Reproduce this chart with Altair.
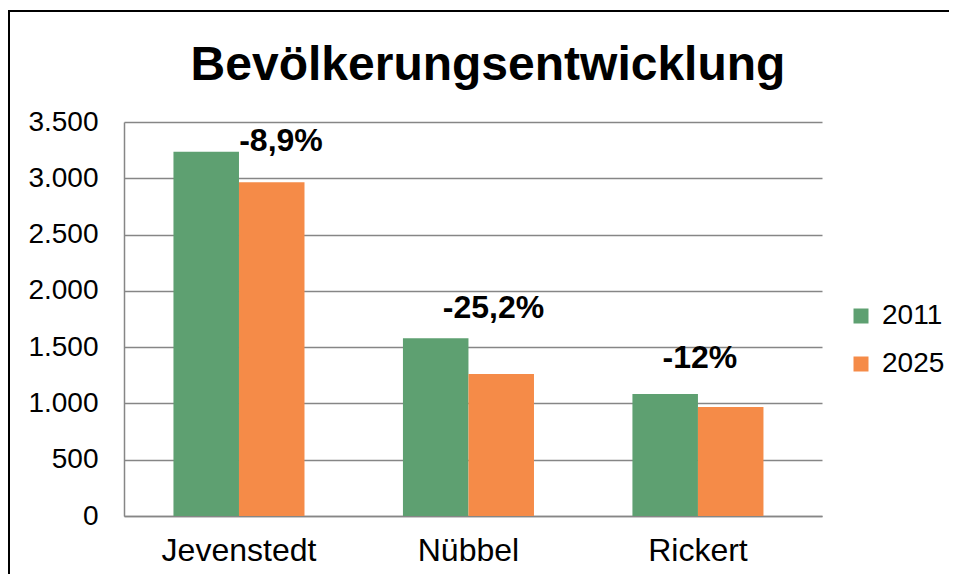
import altair as alt
import pandas as pd

categories = ["Jevenstedt", "Nübbel", "Rickert"]
years = ["2011", "2025"]
values_2011 = [3235, 1580, 1083]
values_2025 = [2965, 1262, 968]
change_labels = ["-8,9%", "-25,2%", "-12%"]
y_ticks = [0, 500, 1000, 1500, 2000, 2500, 3000, 3500]
colors = ["#5EA071", "#F58B48"]

rows = []
for c, a, b in zip(categories, values_2011, values_2025):
    rows.append({"Ort": c, "Jahr": years[0], "Einwohner": a})
    rows.append({"Ort": c, "Jahr": years[1], "Einwohner": b})
df = pd.DataFrame(rows)

lab_df = pd.DataFrame({
    "Ort": categories,
    "label": change_labels,
    "top": [max(a, b) for a, b in zip(values_2011, values_2025)],
})

FONT = "Liberation Sans"
W, H = 698, 394

x_scale = alt.Scale(paddingInner=0.429, paddingOuter=0.2353, align=0.458)
x_enc = alt.X(
    "Ort:N", sort=categories, scale=x_scale,
    axis=alt.Axis(title=None, labelAngle=0, labelFontSize=32, labelColor="#000000",
                  labelFont=FONT, labelPadding=19, ticks=False,
                  domainColor="#868686", domainWidth=1.5),
)
y_enc = alt.Y(
    "Einwohner:Q",
    scale=alt.Scale(domain=[0, 3500], nice=False),
    axis=alt.Axis(values=y_ticks, title=None,
                  labelExpr="replace(format(datum.value, ','), ',', '.')",
                  labelFontSize=28, labelFont=FONT, labelColor="#000000",
                  labelPadding=26, ticks=False,
                  gridColor="#868686", gridWidth=1.5,
                  domainColor="#868686", domainWidth=1.5),
)

bars = alt.Chart(df).mark_bar().encode(
    x=x_enc,
    y=y_enc,
    xOffset=alt.XOffset("Jahr:N", sort=years, scale=alt.Scale(paddingInner=0)),
    color=alt.Color(
        "Jahr:N",
        scale=alt.Scale(domain=years, range=colors),
        legend=alt.Legend(title=None, orient="none", legendX=723, legendY=180,
                          symbolType="square", symbolSize=225, symbolStrokeWidth=0,
                          labelFontSize=28, labelFont=FONT, labelColor="#000000",
                          rowPadding=20, labelOffset=7, padding=0),
    ),
)

offsets = [(42, -1), (25, -20), (2, -26)]
label_layers = []
for cat, (ddx, ddy) in zip(categories, offsets):
    label_layers.append(
        alt.Chart(lab_df).transform_filter(alt.datum.Ort == cat)
        .mark_text(font=FONT, fontSize=32, fontWeight="bold", color="#000000",
                   baseline="alphabetic", align="center", dx=ddx, dy=ddy)
        .encode(x=alt.X("Ort:N", sort=categories), y="top:Q", text="label:N")
    )

frame_data = alt.Data(values=[{"f": 1}])
frame_left = alt.Chart(frame_data).mark_rule(color="#000000", strokeWidth=2).encode(
    x=alt.value(-115), y=alt.value(-111), y2=alt.value(H + 70))
frame_top = alt.Chart(frame_data).mark_rule(color="#000000", strokeWidth=2).encode(
    x=alt.value(-116), x2=alt.value(W + 140), y=alt.value(-111))

chart = alt.layer(bars, *label_layers, frame_left, frame_top).properties(
    width=W, height=H,
    title=alt.TitleParams("Bevölkerungsentwicklung", fontSize=48, fontWeight="bold",
                          font=FONT, color="#000000", anchor="middle", dx=15,
                          offset=-80),
    autosize=alt.AutoSizeParams(type="none"),
    padding={"left": 116, "top": 114, "right": 127, "bottom": 58},
    background="white",
).configure_view(stroke=None)

chart.save("out.html", embed_options={"renderer": "svg", "actions": False})
